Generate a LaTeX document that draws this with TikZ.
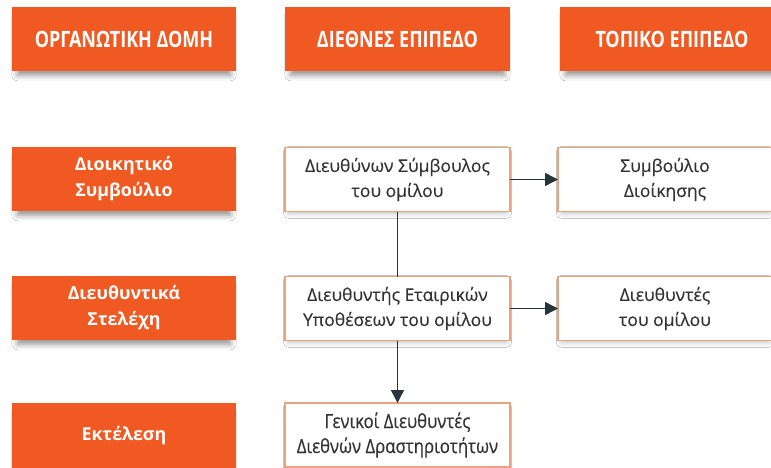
\documentclass[tikz,border=0pt]{standalone}
\usepackage{fontspec}
\setmainfont{Open Sans}
\newfontfamily\hdrfont[FakeStretch=0.8]{Open Sans}
\newfontfamily\bodyfont[FakeBold=0.35]{Open Sans}
\newfontfamily\condfont[FakeStretch=0.86,FakeBold=0.35]{Open Sans}
\usetikzlibrary{arrows.meta,shadows.blur}
\definecolor{orng}{HTML}{F05A22}
\definecolor{bordr}{HTML}{E8A482}
\definecolor{linec}{HTML}{27353D}
\definecolor{txtc}{HTML}{333333}
\tikzset{
  hdr/.style={fill=orng, text=white, minimum width=224pt, minimum height=64pt, inner sep=0pt, outer sep=0pt,
    font=\hdrfont\bfseries\fontsize{22.5}{26}\selectfont, align=center,
    blur shadow={shadow xshift=0pt, shadow yshift=-6pt, shadow opacity=45, shadow blur radius=6pt, shadow scale=0.95}},
  lbl/.style={fill=orng, text=white, minimum width=224pt, minimum height=64pt, inner sep=0pt, outer sep=0pt,
    font=\bfseries\fontsize{17.8}{26}\selectfont, align=center,
    blur shadow={shadow xshift=0pt, shadow yshift=-6pt, shadow opacity=45, shadow blur radius=6pt, shadow scale=0.95}},
  wbox/.style={fill=white, draw=bordr, line width=1.2pt, text=txtc, minimum width=225pt, minimum height=64pt, inner sep=0pt, outer sep=0pt,
    font=\bodyfont\fontsize{17.5}{25}\selectfont, align=center,
    blur shadow={shadow xshift=0pt, shadow yshift=-3pt, shadow opacity=25, shadow blur radius=5pt, shadow scale=0.97}},
  conn/.style={draw=linec, line width=1.5pt},
  arr/.style={conn, -{Triangle[length=13pt,width=13pt]}}
}
\begin{document}
\begin{tikzpicture}[x=1pt,y=-1pt]
\useasboundingbox[fill=white] (0,0) rectangle (771,468);
% headers
\node[hdr] (h1) at (124,39) {ΟΡΓΑΝΩΤΙΚΗ ΔΟΜΗ};
\node[hdr, minimum width=225pt] (h2) at (397.5,39) {ΔΙΕΘΝΕΣ ΕΠΙΠΕΔΟ};
\node[hdr] (h3) at (672,39) {ΤΟΠΙΚΟ ΕΠΙΠΕΔΟ};
% left labels
\node[lbl] (l1) at (124,179) {Διοικητικό\\Συμβούλιο};
\node[lbl] (l2) at (124,308) {Διευθυντικά\\Στελέχη};
\node[lbl, minimum height=66pt] (l3) at (124,436) {Εκτέλεση};
% middle column
\node[wbox] (m1) at (397.5,179.5) {Διευθύνων Σύμβουλος\\του ομίλου};
\node[wbox] (m2) at (397.5,308.5) {Διευθυντής Εταιρικών\\Υποθέσεων του ομίλου};
\node[wbox, font=\condfont\fontsize{19.5}{25}\selectfont] (m3) at (397.5,435) {Γενικοί Διευθυντές\\Διεθνών Δραστηριοτήτων};
% right column
\node[wbox, minimum width=214pt] (r1) at (665,179.5) {Συμβούλιο\\Διοίκησης};
\node[wbox, minimum width=214pt] (r2) at (665,308.5) {Διευθυντές\\του ομίλου};
% connectors
\draw[conn] (m1.south) -- (m2.north);
\draw[arr] (m2.south) -- (m3.north);
\draw[arr] (m1.east) -- (r1.west);
\draw[arr] (m2.east) -- (r2.west);
\end{tikzpicture}
\end{document}
